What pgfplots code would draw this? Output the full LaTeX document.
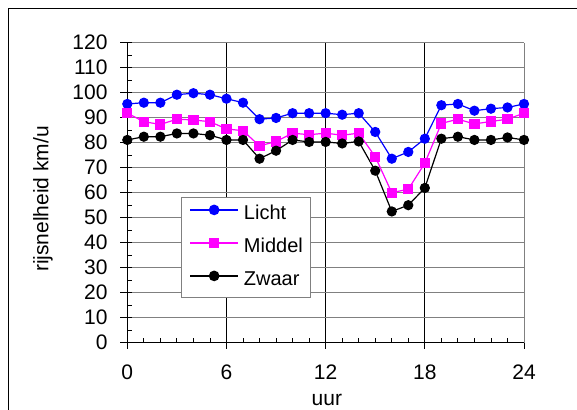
\documentclass[border=0pt]{standalone}
\usepackage{pgfplots}
\pgfplotsset{compat=1.18}
\usepackage{fontspec}
\setmainfont{Liberation Sans}
\definecolor{lichtc}{RGB}{0,0,255}
\definecolor{middelc}{RGB}{255,0,255}
\definecolor{gridc}{RGB}{128,128,128}

\pgfplotstableread{
x y
0 95.5
1 96
2 96
3 99.2
4 99.8
5 99.2
6 97.6
7 96
8 89.4
9 89.9
10 91.8
11 91.8
12 91.8
13 91.2
14 91.8
15 84.3
16 73.6
17 76.3
18 81.6
19 95
20 95.5
21 92.8
22 93.6
23 94.1
24 95.5
}\licht

\pgfplotstableread{
x y
0 91.8
1 88.4
2 87.3
3 89.4
4 89.1
5 88.4
6 85.5
7 84.8
8 78.7
9 80.5
10 83.8
11 83.2
12 83.8
13 83
14 83.8
15 74.4
16 60
17 61.4
18 71.8
19 87.7
20 89.4
21 87.5
22 88.5
23 89.4
24 91.8
}\middel

\pgfplotstableread{
x y
0 81.1
1 82.4
2 82.4
3 83.7
4 83.7
5 83
6 81.1
7 81.1
8 73.6
9 76.8
10 81.1
11 80.3
12 80.3
13 79.7
14 80.5
15 68.8
16 52.5
17 55
18 61.9
19 81.6
20 82.4
21 81.1
22 81.1
23 82.1
24 81.1
}\zwaar

\begin{document}
\begin{tikzpicture}[x=1pt,y=1pt]
\useasboundingbox (0,0) rectangle (577,409);
\draw[black, line width=1pt] (8.7,-5) -- (8.7,400.3) -- (585,400.3);
\begin{axis}[
  at={(127.3pt,66.3pt)}, anchor=south west,
  scale only axis, width=396.7pt, height=300pt,
  xmin=0, xmax=24, ymin=0, ymax=120,
  clip=false,
  axis x line*=bottom, axis y line*=left,
  axis line style={black, line width=1pt},
  xtick={0,6,12,18,24},
  minor xtick={0,1,...,24},
  ytick={0,10,...,120},
  minor ytick={0,5,...,120},
  tick align=inside,
  major tick length=7pt,
  minor tick length=4.5pt,
  tick style={black, line width=0.8pt},
  major y tick style={xshift=-7pt},
  major x tick style={yshift=-6pt},
  ymajorgrids, xmajorgrids,
  major y grid style={gridc, line width=1pt},
  major x grid style={black, line width=1pt},
  /pgf/number format/assume math mode=true,
  tick label style={font=\fontsize{21}{25}\selectfont},
  xticklabel style={inner sep=0pt, yshift=-22.3pt},
  yticklabel style={inner sep=0pt, xshift=-19.6pt},
  every axis y label/.style={at={(axis description cs:-0.2125,0.479)}, rotate=90, anchor=center, font=\fontsize{21}{25}\selectfont},
  every axis x label/.style={at={(axis description cs:0.503,-0.2077)}, anchor=base, font=\fontsize{21}{25}\selectfont},
  ylabel={rijsnelheid km/u},
  xlabel={uur},
  legend style={at={(axis description cs:0.135,0.486)}, anchor=north west,
    draw=gridc, line width=1pt, fill=white,
    font=\fontsize{20}{24}\selectfont,
    inner xsep=8pt, inner ysep=8pt, row sep=15pt, column sep=5pt,
    nodes={inner sep=0pt, text height=14pt, text depth=4pt}},
  legend cell align=left,
  legend image code/.code={
    \draw[#1, line width=1.6pt, mark=none] (0pt,4.5pt) -- (48pt,4.5pt);
    \draw[mark repeat=2, mark phase=2, #1, line width=1.6pt] plot coordinates {(0pt,4.5pt) (24pt,4.5pt) (48pt,4.5pt)};
  },
]
\draw[gridc, line width=1pt] (rel axis cs:1,0) -- (rel axis cs:1,1);
\addplot[lichtc, line width=1.2pt, mark=*, mark size=4.5pt, mark options={solid, fill=lichtc, draw=lichtc}] table {\licht};
\addlegendentry{Licht}
\addplot[middelc, line width=1.2pt, mark=square*, mark size=4.5pt, mark options={solid, fill=middelc, draw=middelc}] table {\middel};
\addlegendentry{Middel}
\addplot[black, line width=1.2pt, mark=*, mark size=4.5pt, mark options={solid, fill=black, draw=black}] table {\zwaar};
\addlegendentry{Zwaar}
\end{axis}
\end{tikzpicture}
\end{document}
